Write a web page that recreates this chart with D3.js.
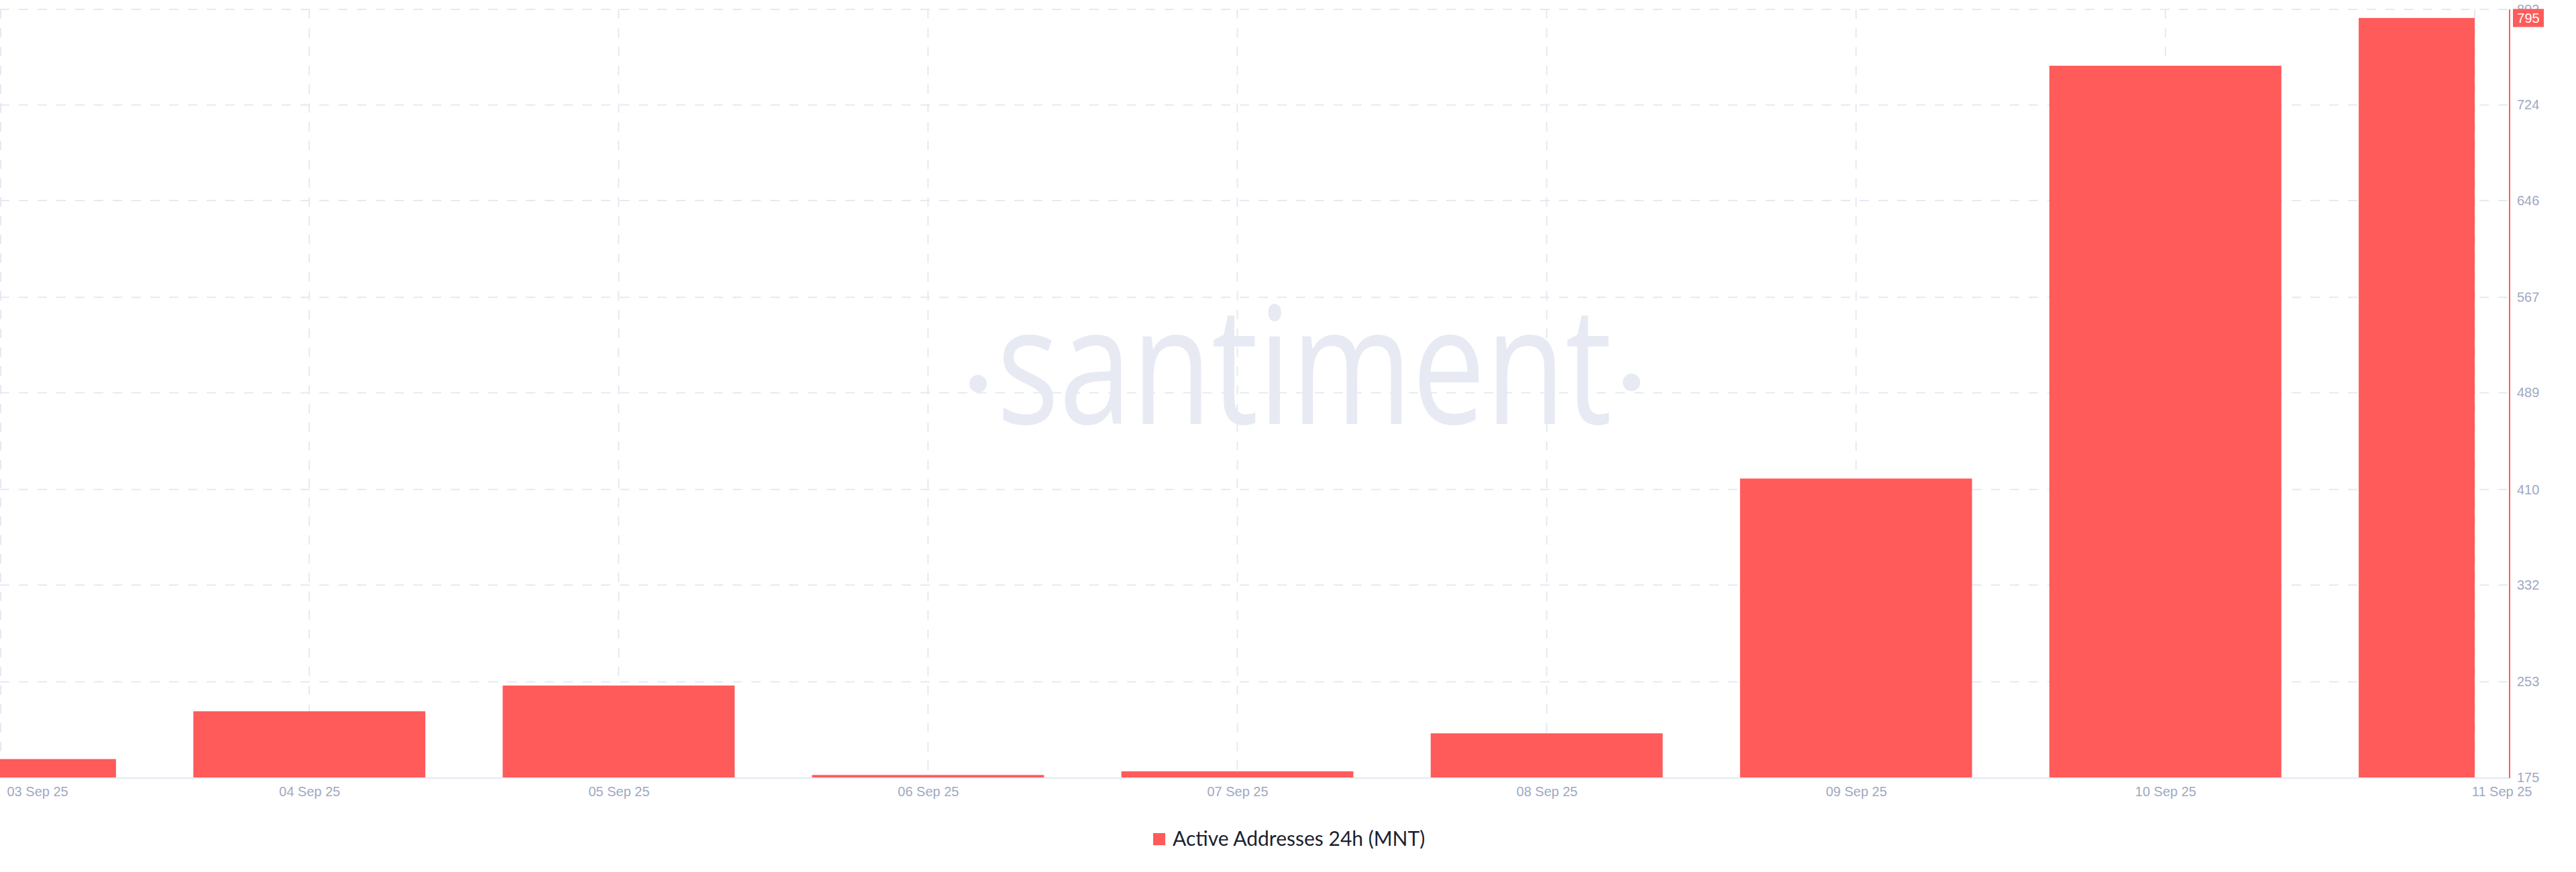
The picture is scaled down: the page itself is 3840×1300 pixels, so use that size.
<!DOCTYPE html>
<html>
<head>
<meta charset="utf-8">
<script src="https://cdn.jsdelivr.net/npm/d3@7/dist/d3.min.js"></script>
<style>
  html, body { margin: 0; padding: 0; background: #ffffff; }
  svg { display: block; }
</style>
</head>
<body>
<svg id="chart" width="3840" height="1300"></svg>
<script>
// ---- Data ----
const dates = ["2025-09-03","2025-09-04","2025-09-05","2025-09-06","2025-09-07","2025-09-08","2025-09-09","2025-09-10","2025-09-11"];
const dateLabels = ["03 Sep 25","04 Sep 25","05 Sep 25","06 Sep 25","07 Sep 25","08 Sep 25","09 Sep 25","10 Sep 25","11 Sep 25"];
const activeAddresses = [190, 229, 250, 177, 180, 211, 419, 756, 795];
const yTickValues = [175, 253, 332, 410, 489, 567, 646, 724, 802];
const yTickLabels = ["175","253","332","410","489","567","646","724","802"];
const seriesName = "Active Addresses 24h (MNT)";
const lastValueLabel = "795";
const watermarkText = "santiment";

// ---- Layout ----
const W = 3840, H = 1300;
const plotLeft = 0, plotRight = 3740, plotTop = 14, plotBottom = 1159;
const RED = "#ff5b5b";
const GRID = "#e6e9f3";
const LABEL = "#9ea8c2";

const parse = d3.utcParse("%Y-%m-%d");
const dts = dates.map(parse);

const x = d3.scaleUtc().domain([dts[0], dts[dts.length - 1]]).range([0, 3689]);
const y = d3.scaleLinear().domain([175, 802]).range([plotBottom, plotTop]);
const step = x(dts[1]) - x(dts[0]);
const barW = step * 0.75;

const svg = d3.select("#chart");

// clip for bars
svg.append("defs").append("clipPath").attr("id", "barclip")
  .append("rect").attr("x", 0).attr("y", 0).attr("width", x(dts[dts.length - 1])).attr("height", H);

// ---- Watermark ----
const wm = svg.append("g").attr("class", "watermark");
const wmText = wm.append("text")
  .attr("font-family", "'Open Sans', sans-serif")
  .attr("font-size", 243)
  .attr("fill", "#e7eaf3")
  .text(watermarkText);
const wmLen = wmText.node().getComputedTextLength();
const wmTargetW = 917, wmX = 1486, wmBase = 632;
wmText.attr("transform", `translate(${wmX},${wmBase}) scale(${wmTargetW / wmLen},1)`);
wm.append("circle").attr("cx", 1458).attr("cy", 572).attr("r", 13).attr("fill", "#e7eaf3");
wm.append("circle").attr("cx", 2432).attr("cy", 570).attr("r", 13).attr("fill", "#e7eaf3");

// ---- Grid ----
const grid = svg.append("g").attr("class", "grid");
grid.selectAll("line.h").data(yTickValues.slice(1)).join("line")
  .attr("class", "h")
  .attr("x1", plotLeft).attr("x2", plotRight)
  .attr("y1", d => y(d)).attr("y2", d => y(d))
  .attr("stroke", GRID).attr("stroke-width", 2).attr("stroke-dasharray", "14,14");
grid.selectAll("line.v").data(dts).join("line")
  .attr("class", "v")
  .attr("x1", d => Math.max(1, x(d))).attr("x2", d => Math.max(1, x(d)))
  .attr("y1", plotTop).attr("y2", plotBottom)
  .attr("stroke", GRID).attr("stroke-width", 2).attr("stroke-dasharray", "14,14");

// ---- Bars ----
svg.append("g").attr("clip-path", "url(#barclip)")
  .selectAll("rect").data(activeAddresses).join("rect")
  .attr("x", (d, i) => x(dts[i]) - barW / 2)
  .attr("width", barW)
  .attr("y", d => y(d))
  .attr("height", d => plotBottom - y(d))
  .attr("fill", RED);

// ---- X axis ----
svg.append("line")
  .attr("x1", plotLeft).attr("x2", plotRight)
  .attr("y1", plotBottom + 1).attr("y2", plotBottom + 1)
  .attr("stroke", "#e5e8f2").attr("stroke-width", 2);

const xAxisG = svg.append("g").attr("transform", `translate(0,${plotBottom})`)
  .call(d3.axisBottom(x).tickValues(dts).tickSize(0).tickFormat((d, i) => dateLabels[i]));
xAxisG.select(".domain").remove();
xAxisG.selectAll("text")
  .attr("font-family", "'Liberation Sans', Arial, sans-serif")
  .attr("font-size", 20)
  .attr("fill", LABEL)
  .attr("dy", null)
  .attr("y", 28);
xAxisG.selectAll(".tick").filter((d, i) => i === 0).select("text")
  .attr("text-anchor", "start").attr("x", 10);
xAxisG.selectAll(".tick").filter((d, i) => i === dts.length - 1).select("text")
  .attr("text-anchor", "end").attr("x", 85);

// ---- Y axis (right) ----
const yAxisG = svg.append("g").attr("transform", `translate(${plotRight},0)`)
  .call(d3.axisRight(y).tickValues(yTickValues).tickSize(0).tickFormat((d, i) => yTickLabels[i]));
yAxisG.select(".domain").remove();
yAxisG.selectAll("text")
  .attr("font-family", "'Liberation Sans', Arial, sans-serif")
  .attr("font-size", 20)
  .attr("fill", LABEL)
  .attr("x", 12);

svg.append("line")
  .attr("x1", plotRight + 1).attr("x2", plotRight + 1)
  .attr("y1", plotTop).attr("y2", plotBottom + 1)
  .attr("stroke", RED).attr("stroke-width", 2);

// last value badge
const lastY = y(activeAddresses[activeAddresses.length - 1]);
const badge = svg.append("g").attr("transform", `translate(${plotRight + 6},${lastY})`);
badge.append("rect").attr("x", 0).attr("y", -13.5).attr("width", 46).attr("height", 27).attr("fill", RED);
badge.append("text")
  .attr("x", 23).attr("y", 0).attr("dy", "0.35em")
  .attr("text-anchor", "middle")
  .attr("font-family", "'Liberation Sans', Arial, sans-serif")
  .attr("font-size", 20)
  .attr("fill", "#ffffff")
  .text(lastValueLabel);

// ---- Legend ----
const legend = svg.append("g");
legend.append("rect").attr("x", 1719).attr("y", 1242).attr("width", 18).attr("height", 18).attr("fill", RED);
const lt = legend.append("text")
  .attr("x", 1748).attr("y", 1261)
  .attr("font-family", "Lato, 'Open Sans', sans-serif")
  .attr("font-size", 30)
  .attr("fill", "#1b1f2f")
  .text(seriesName);
</script>
</body>
</html>
